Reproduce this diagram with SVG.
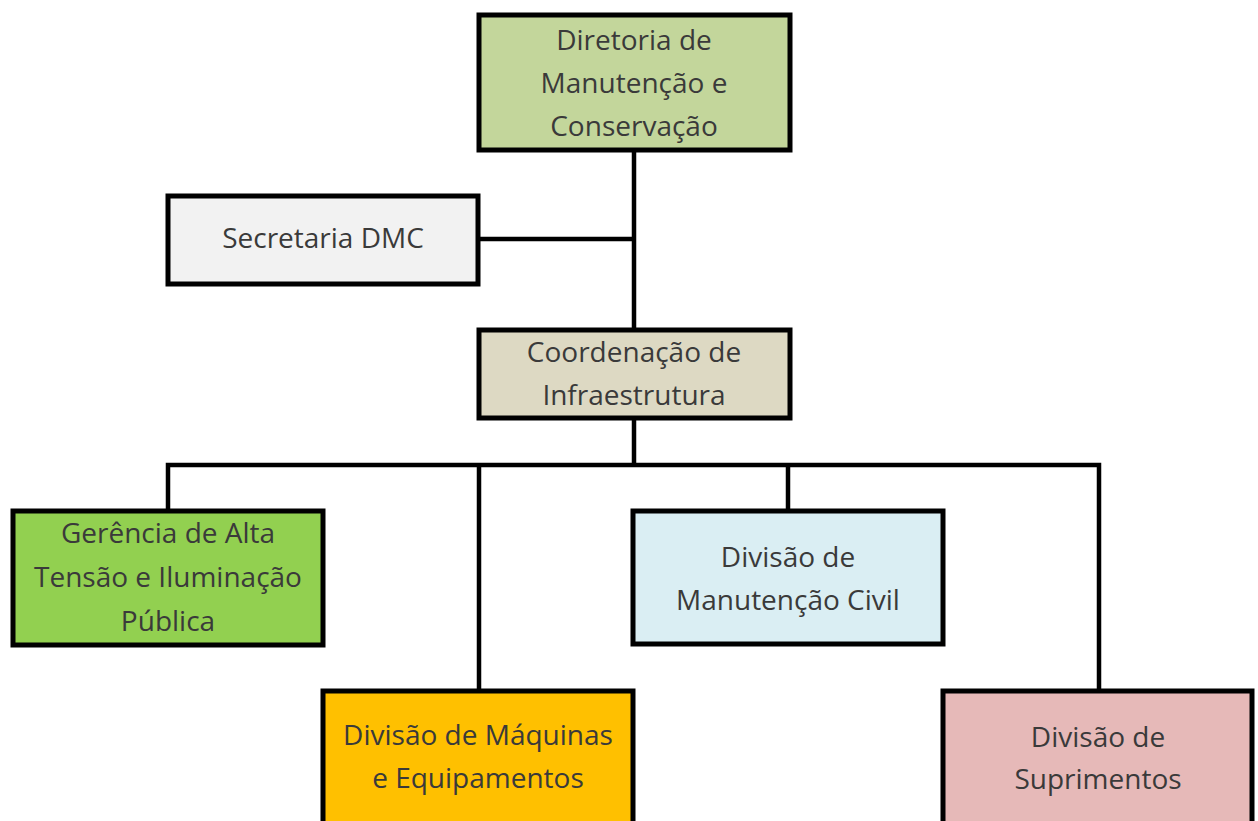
<svg xmlns="http://www.w3.org/2000/svg" width="1258" height="821" viewBox="0 0 1258 821">
<style>
.box{stroke:#000;stroke-width:5}
.t{font-family:"Open Sans","Liberation Sans",sans-serif;font-size:28px;fill:#3a3a3a;text-anchor:middle}
.c{stroke:#000;stroke-width:4.5;fill:none;stroke-linejoin:miter}
</style>
<rect width="1258" height="821" fill="#fff"/>
<g id="connectors">
<path class="c" d="M634 150 V330"/>
<path class="c" d="M478 239 H634"/>
<path class="c" d="M634 418 V465"/>
<path class="c" d="M168 511 V465 H1099 V691"/>
<path class="c" d="M479 465 V691"/>
<path class="c" d="M788 465 V511"/>
</g>
<g id="diretoria">
<rect class="box" x="479" y="15" width="311" height="135" fill="#C3D69B"/>
<text class="t" x="634" y="50">Diretoria de</text>
<text class="t" x="634" y="93">Manutenção e</text>
<text class="t" x="634" y="136">Conservação</text>
</g>
<g id="secretaria">
<rect class="box" x="168" y="196" width="310" height="88" fill="#F2F2F2"/>
<text class="t" x="323" y="248">Secretaria DMC</text>
</g>
<g id="coordenacao">
<rect class="box" x="479" y="330" width="311" height="88" fill="#DDD9C3"/>
<text class="t" x="634" y="362">Coordenação de</text>
<text class="t" x="634" y="405">Infraestrutura</text>
</g>
<g id="gerencia">
<rect class="box" x="13" y="511" width="310" height="134" fill="#92D050"/>
<text class="t" x="168" y="543">Gerência de Alta</text>
<text class="t" x="168" y="587">Tensão e Iluminação</text>
<text class="t" x="168" y="631">Pública</text>
</g>
<g id="civil">
<rect class="box" x="633" y="511" width="310" height="133" fill="#DAEEF3"/>
<text class="t" x="788" y="567">Divisão de</text>
<text class="t" x="788" y="610">Manutenção Civil</text>
</g>
<g id="maquinas">
<rect class="box" x="323" y="691" width="310" height="145" fill="#FFC000"/>
<text class="t" x="478" y="745">Divisão de Máquinas</text>
<text class="t" x="478" y="788">e Equipamentos</text>
</g>
<g id="suprimentos">
<rect class="box" x="943" y="691" width="309" height="145" fill="#E6B9B8"/>
<text class="t" x="1098" y="747">Divisão de</text>
<text class="t" x="1098" y="789">Suprimentos</text>
</g>
</svg>
